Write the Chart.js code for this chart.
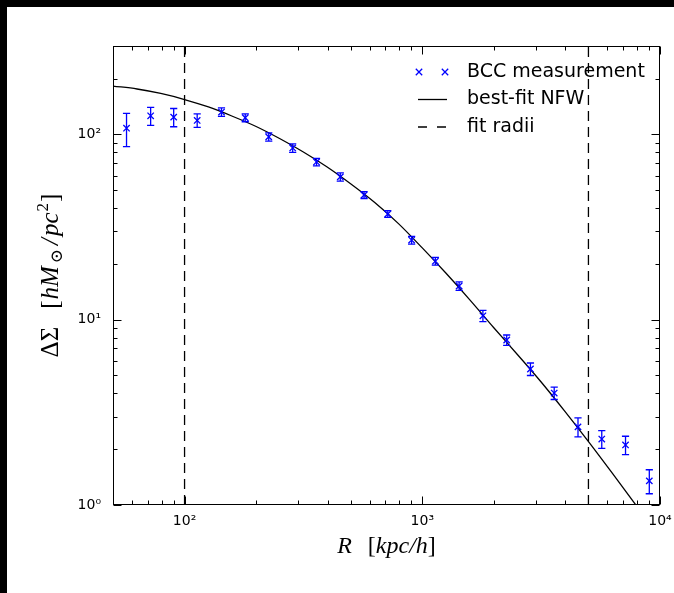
<!DOCTYPE html>
<html>
<head>
<meta charset="utf-8">
<script src="https://cdn.jsdelivr.net/npm/chart.js@4.4.1/dist/chart.umd.min.js"></script>
<style>
html, body { margin: 0; padding: 0; background: #fff; }
#frame { position: absolute; left: 0; top: 0; width: 674px; height: 593px; box-sizing: border-box;
         border-top: 7px solid #000; border-left: 7px solid #000; background: #fff; }
canvas { display: block; }
</style>
</head>
<body>
<div id="frame"><canvas id="chart" width="667" height="586"></canvas></div>
<script>
// BCC measurement: radius [kpc/h], Delta Sigma and its error
const radii = [57, 72, 90, 113, 143, 180, 226, 285, 359, 452, 569, 716, 902, 1135, 1429, 1799, 2265, 2851, 3589, 4519, 5689, 7161, 9016];
const deltaSigma = [108, 126, 124, 119, 132, 123, 97, 84.5, 71, 59, 47.1, 37.2, 26.9, 20.7, 15.2, 10.5, 7.77, 5.42, 4.02, 2.64, 2.27, 2.11, 1.35];
const sigmaErr = [22, 14, 14, 10, 7, 6, 5, 4.5, 3.3, 3.0, 2.0, 1.56, 1.3, 1.0, 0.8, 0.74, 0.5, 0.42, 0.31, 0.31, 0.25, 0.24, 0.2];

// best-fit NFW curve
const nfwRadii = [50, 63.1, 79.4, 100, 126, 158, 200, 251, 316, 398, 501, 631, 794, 1000, 1259, 1585, 1995, 2512, 3162, 3981, 5012, 6310, 7943, 10000];
const nfwSigma = [182.4, 175.8, 166.3, 154.3, 140.6, 125.7, 110.3, 95.0, 80.4, 66.7, 54.0, 42.9, 33.0, 24.4, 17.8, 12.8, 9.08, 6.49, 4.61, 3.20, 2.19, 1.48, 0.994, 0.66];

// fit radii limits
const fitRadii = [100, 5000];

// ticks
const xTicks = [50, 60, 70, 80, 90, 100, 200, 300, 400, 500, 600, 700, 800, 900, 1000, 2000, 3000, 4000, 5000, 6000, 7000, 8000, 9000, 10000];
const yTicks = [1, 2, 3, 4, 5, 6, 7, 8, 9, 10, 20, 30, 40, 50, 60, 70, 80, 90, 100, 200, 300];
const xMajor = [100, 1000, 10000];
const yMajor = [1, 10, 100];
const xTickLabels = ['10²', '10³', '10⁴'];
const yTickLabels = ['10⁰', '10¹', '10²'];

const DASH = [10, 6];

function drawRich(ctx, parts, x, y) {
    // parts: [text, font, dy, extra gap after]
    let w = 0;
    parts.forEach(p => { ctx.font = p[1]; w += ctx.measureText(p[0]).width + (p[3] || 0); });
    let cx = x - w / 2;
    ctx.textAlign = 'left';
    ctx.textBaseline = 'alphabetic';
    parts.forEach(p => {
        ctx.font = p[1];
        ctx.fillText(p[0], cx, y + (p[2] || 0));
        cx += ctx.measureText(p[0]).width + (p[3] || 0);
    });
}

const errorBars = {
    id: 'errorBars',
    afterDatasetsDraw(chart) {
        const {ctx, chartArea: a, scales: {x, y}} = chart;
        ctx.save();
        ctx.beginPath();
        ctx.rect(a.left, a.top, a.right - a.left, a.bottom - a.top);
        ctx.clip();
        ctx.strokeStyle = '#0000ff';
        ctx.lineWidth = 1.3;
        radii.forEach((r, i) => {
            const px = x.getPixelForValue(r);
            const top = y.getPixelForValue(deltaSigma[i] + sigmaErr[i]);
            const bot = y.getPixelForValue(deltaSigma[i] - sigmaErr[i]);
            ctx.beginPath();
            ctx.moveTo(px, top); ctx.lineTo(px, bot);
            ctx.moveTo(px - 3.6, top); ctx.lineTo(px + 3.6, top);
            ctx.moveTo(px - 3.6, bot); ctx.lineTo(px + 3.6, bot);
            ctx.stroke();
        });
        ctx.restore();
    }
};

const frameTicks = {
    id: 'frameTicks',
    afterDatasetsDraw(chart) {
        const {ctx, chartArea: a, scales: {x, y}} = chart;
        const L = Math.round(a.left) + 0.5, R = Math.round(a.right) - 0.5;
        const T = Math.round(a.top) + 0.5, B = Math.round(a.bottom) - 0.5;
        ctx.save();
        ctx.strokeStyle = '#000';
        ctx.lineWidth = 1;
        ctx.strokeRect(L, T, R - L, B - T);
        ctx.beginPath();
        xTicks.forEach(v => {
            const px = Math.round(x.getPixelForValue(v)) + 0.5;
            const len = xMajor.includes(v) ? 8 : 4;
            ctx.moveTo(px, B); ctx.lineTo(px, B - len);
            ctx.moveTo(px, T); ctx.lineTo(px, T + len);
        });
        yTicks.forEach(v => {
            const py = Math.round(y.getPixelForValue(v)) + 0.5;
            const len = yMajor.includes(v) ? 8 : 4;
            ctx.moveTo(L, py); ctx.lineTo(L + len, py);
            ctx.moveTo(R, py); ctx.lineTo(R - len, py);
        });
        ctx.stroke();
        ctx.restore();
    }
};

const legendAndTitles = {
    id: 'legendAndTitles',
    afterDraw(chart) {
        const {ctx, chartArea: a} = chart;
        const ds = chart.data.datasets;
        ctx.save();
        // legend
        const x0 = 411, x1 = 440, tx = 460;
        const rows = [65, 92.5, 120];
        ctx.strokeStyle = ds[0].borderColor;
        ctx.lineWidth = ds[0].borderWidth;
        [x0 + 1, x1 - 2].forEach(mx => {
            const r = 3.2;
            ctx.beginPath();
            ctx.moveTo(mx - r, rows[0] - r); ctx.lineTo(mx + r, rows[0] + r);
            ctx.moveTo(mx - r, rows[0] + r); ctx.lineTo(mx + r, rows[0] - r);
            ctx.stroke();
        });
        ctx.strokeStyle = ds[1].borderColor;
        ctx.lineWidth = ds[1].borderWidth;
        ctx.beginPath(); ctx.moveTo(x0, rows[1]); ctx.lineTo(x1, rows[1]); ctx.stroke();
        ctx.strokeStyle = ds[2].borderColor;
        ctx.lineWidth = ds[2].borderWidth;
        ctx.setLineDash([9, 10]);
        ctx.beginPath(); ctx.moveTo(x0, rows[2]); ctx.lineTo(x1, rows[2]); ctx.stroke();
        ctx.setLineDash([]);
        ctx.fillStyle = '#000';
        ctx.font = '19px "DejaVu Sans"';
        ctx.textAlign = 'left';
        ctx.textBaseline = 'middle';
        ctx.fillText('BCC measurement', tx, rows[0]);
        ctx.fillText('best-fit NFW', tx, rows[1]);
        ctx.fillText('fit radii', tx, rows[2]);

        // axis titles
        const it = 'italic 24px "Liberation Serif", "DejaVu Serif"';
        const up = '24px "Liberation Serif", "DejaVu Serif"';
        drawRich(ctx, [['R', it, 0, 16], ['[', up], ['kpc/h', it], [']', up]], (a.left + a.right) / 2, 546);
        const it2 = 'italic 25px "Liberation Serif", "DejaVu Serif"';
        const up2 = '25px "Liberation Serif", "DejaVu Serif"';
        const sm2 = '17px "Liberation Serif", "DejaVu Serif"';
        ctx.translate(51, 268.5);
        ctx.rotate(-Math.PI / 2);
        drawRich(ctx, [['ΔΣ', up2, 0, 18], ['[', up2, 0, 1], ['hM', it2, 0, 3], ['⊙', sm2, 4, 4], ['/', it2, 0, 2],
                       ['pc', it2, 0, 1], ['2', sm2, -10, 1], [']', up2]], 0, 0);
        ctx.restore();
    }
};

const ctx = document.getElementById('chart');
new Chart(ctx, {
    data: {
        datasets: [{
            type: 'scatter',
            label: 'BCC measurement',
            data: radii.map((r, i) => ({x: r, y: deltaSigma[i]})),
            pointStyle: 'crossRot',
            pointRadius: 4.5,
            borderColor: '#0000ff',
            backgroundColor: '#0000ff',
            borderWidth: 1.3
        }, {
            type: 'line',
            label: 'best-fit NFW',
            data: nfwRadii.map((r, i) => ({x: r, y: nfwSigma[i]})),
            borderColor: '#000',
            borderWidth: 1.3,
            pointRadius: 0,
            cubicInterpolationMode: 'monotone',
            fill: false
        }, {
            type: 'line',
            label: 'fit radii',
            data: [{x: fitRadii[0], y: 1}, {x: fitRadii[0], y: 300}],
            borderColor: '#000',
            borderWidth: 1.3,
            borderDash: DASH,
            pointRadius: 0
        }, {
            type: 'line',
            label: 'fit radii (outer)',
            data: [{x: fitRadii[1], y: 1}, {x: fitRadii[1], y: 300}],
            borderColor: '#000',
            borderWidth: 1.3,
            borderDash: DASH,
            pointRadius: 0
        }]
    },
    options: {
        responsive: false,
        animation: false,
        layout: { padding: { top: 39, right: 14, bottom: 0, left: 0 } },
        plugins: { legend: { display: false }, tooltip: { enabled: false } },
        scales: {
            x: {
                type: 'logarithmic',
                min: 50,
                max: 10000,
                grid: { display: false, drawTicks: false },
                border: { display: false },
                afterBuildTicks: s => { s.ticks = xTicks.map(v => ({value: v})); },
                afterFit: s => { s.height = 88; s.paddingLeft = 0; s.paddingRight = 0; },
                ticks: {
                    autoSkip: false,
                    maxRotation: 0,
                    padding: 8,
                    color: '#000',
                    font: { family: 'DejaVu Sans', size: 14 },
                    callback: v => { const k = xMajor.indexOf(v); return k < 0 ? '' : xTickLabels[k]; }
                }
            },
            y: {
                type: 'logarithmic',
                min: 1,
                max: 300,
                grid: { display: false, drawTicks: false },
                border: { display: false },
                afterBuildTicks: s => { s.ticks = yTicks.map(v => ({value: v})); },
                afterFit: s => { s.width = 106; s.paddingTop = 0; s.paddingBottom = 0; },
                ticks: {
                    autoSkip: false,
                    padding: 12,
                    color: '#000',
                    font: { family: 'DejaVu Sans', size: 14 },
                    callback: v => { const k = yMajor.indexOf(v); return k < 0 ? '' : yTickLabels[k]; }
                }
            }
        }
    },
    plugins: [errorBars, frameTicks, legendAndTitles]
});
</script>
</body>
</html>
